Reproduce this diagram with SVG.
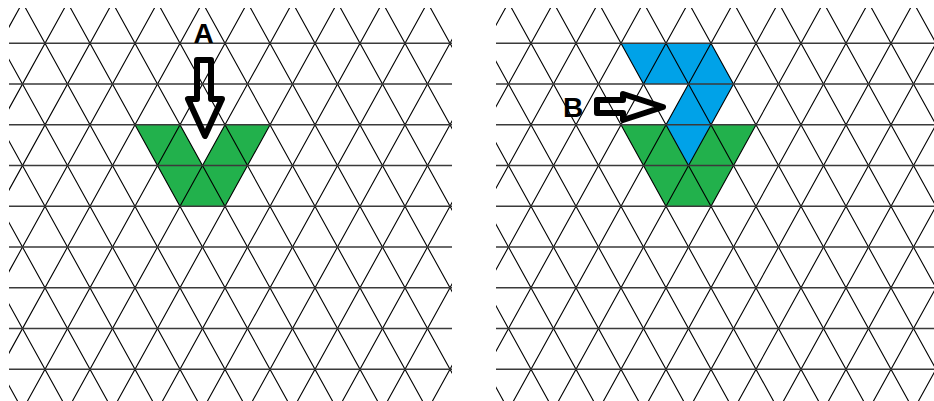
<svg xmlns="http://www.w3.org/2000/svg" xmlns:xlink="http://www.w3.org/1999/xlink" width="934" height="401" viewBox="0 0 934 401">
<style>
.diag{fill:none;stroke:#000;stroke-width:1.1}
.hline{fill:none;stroke:#3a3a3a;stroke-width:1.6}
.green{fill:#22B14C}
.blue{fill:#00A2E8}
.arrow{fill:none;stroke:#000;stroke-width:6;stroke-linejoin:round}
.lbl{font-family:"Liberation Sans",Arial,sans-serif;font-weight:bold;font-size:28px;fill:#000;text-anchor:middle}
</style>
<defs>
<clipPath id="clipL"><rect x="9" y="8" width="443" height="393"/></clipPath>
<clipPath id="clipR"><rect x="496" y="8" width="438" height="393"/></clipPath>
<g id="grid">
<path class="diag" d="M-202.5 2.55L22.5 410.05M-157.5 2.55L67.5 410.05M-112.5 2.55L112.5 410.05M-67.5 2.55L157.5 410.05M-22.5 2.55L202.5 410.05M22.5 2.55L247.5 410.05M67.5 2.55L292.5 410.05M112.5 2.55L337.5 410.05M157.5 2.55L382.5 410.05M202.5 2.55L427.5 410.05M247.5 2.55L472.5 410.05M292.5 2.55L517.5 410.05M337.5 2.55L562.5 410.05M382.5 2.55L607.5 410.05M427.5 2.55L652.5 410.05"/>
<path class="diag" d="M22.5 2.55L-202.5 410.05M67.5 2.55L-157.5 410.05M112.5 2.55L-112.5 410.05M157.5 2.55L-67.5 410.05M202.5 2.55L-22.5 410.05M247.5 2.55L22.5 410.05M292.5 2.55L67.5 410.05M337.5 2.55L112.5 410.05M382.5 2.55L157.5 410.05M427.5 2.55L202.5 410.05M472.5 2.55L247.5 410.05M517.5 2.55L292.5 410.05M562.5 2.55L337.5 410.05M607.5 2.55L382.5 410.05M652.5 2.55L427.5 410.05"/>
<path class="hline" d="M0 43.3H460M0 84.05H460M0 124.8H460M0 165.55H460M0 206.3H460M0 247.05H460M0 287.8H460M0 328.55H460M0 369.3H460"/>
</g>
</defs>
<rect width="934" height="401" fill="#fff"/>
<g id="panelA">
<polygon id="shapeA" class="green" points="135,124.8 180,124.8 202.5,165.55 225,124.8 270,124.8 225,206.3 180,206.3"/>
<g clip-path="url(#clipL)"><use xlink:href="#grid"/></g>
</g>
<g id="panelB">
<polygon id="shapeB-green" class="green" points="621,124.8 666,124.8 688.5,165.55 711,124.8 756,124.8 711,206.3 666,206.3"/>
<polygon id="shapeB-blue" class="blue" points="621,43.3 711,43.3 733.5,84.05 711,124.8 688.5,165.55 666,124.8 688.5,84.05 643.5,84.05"/>
<g clip-path="url(#clipR)"><use xlink:href="#grid" transform="translate(486,0)"/></g>
</g>
<g id="connectors">
<polygon id="arrowA" class="arrow" points="197,60 211,60 211,99 222,99 205,136 188,99 197,99"/>
<polygon id="arrowB" class="arrow" points="597,100 623,100 623,94 663,107 623,120 623,113 597,113"/>
</g>
<g id="labelA"><text class="lbl" x="203.5" y="43">A</text></g>
<g id="labelB"><text class="lbl" x="573" y="117">B</text></g>
</svg>
